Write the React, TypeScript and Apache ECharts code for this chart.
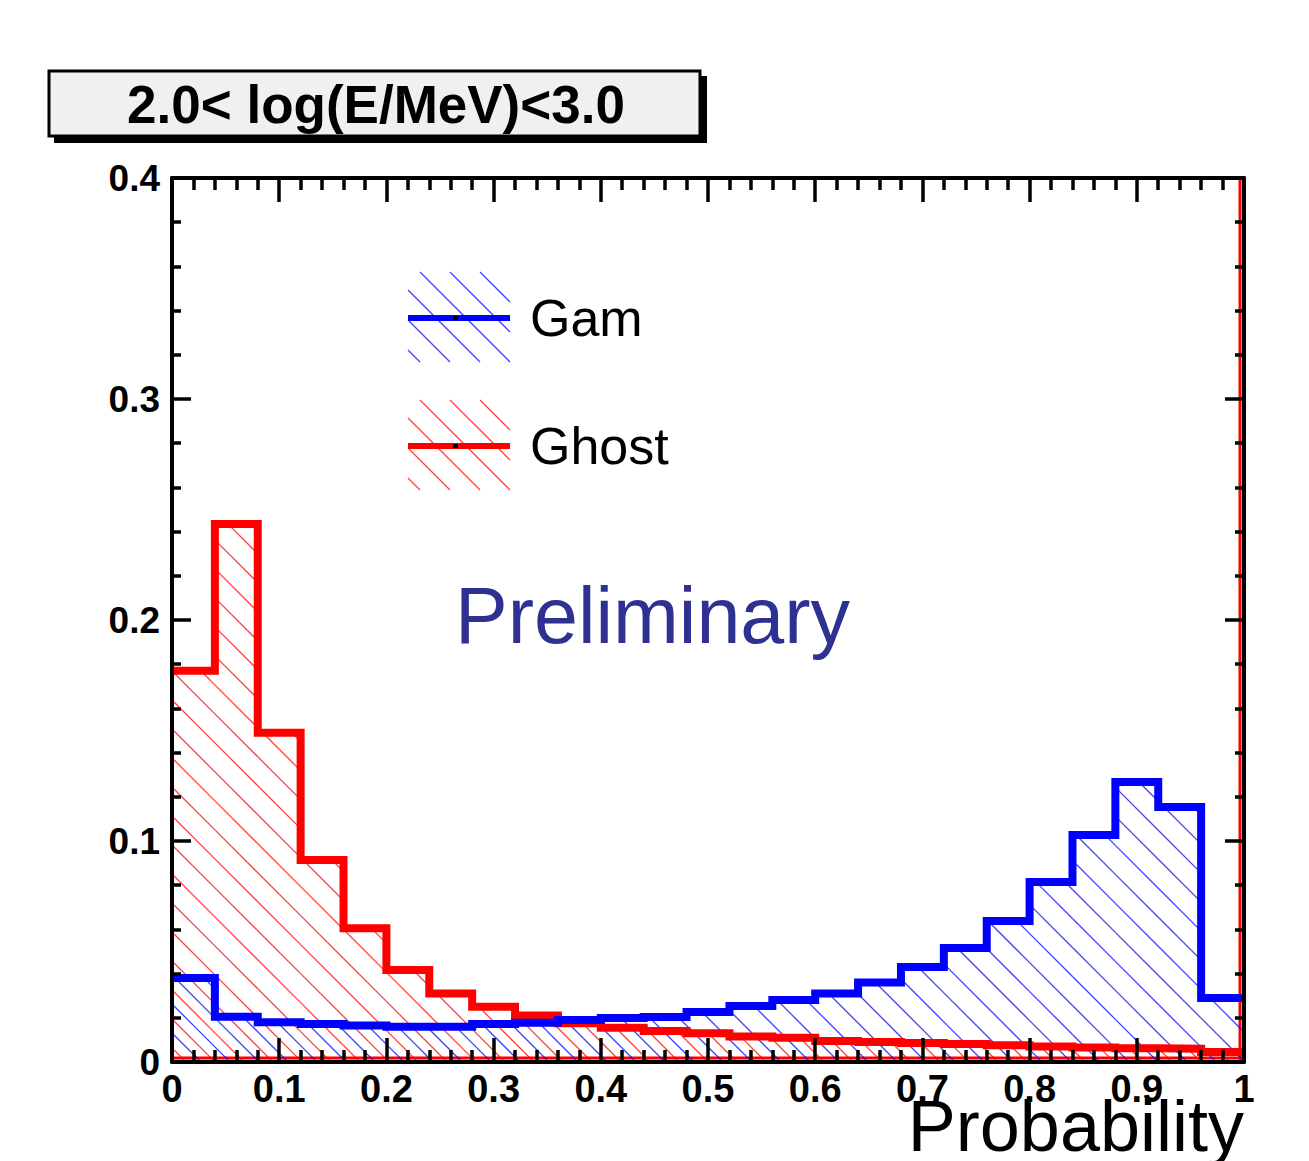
import React, { useEffect, useRef } from "react";
import * as echarts from "echarts";

// ---- data ----
const binLow = [0, 0.04, 0.08, 0.12, 0.16, 0.2, 0.24, 0.28, 0.32, 0.36, 0.4, 0.44, 0.48, 0.52, 0.56, 0.6, 0.64, 0.68, 0.72, 0.76, 0.8, 0.84, 0.88, 0.92, 0.96];
const binHigh = [0.04, 0.08, 0.12, 0.16, 0.2, 0.24, 0.28, 0.32, 0.36, 0.4, 0.44, 0.48, 0.52, 0.56, 0.6, 0.64, 0.68, 0.72, 0.76, 0.8, 0.84, 0.88, 0.92, 0.96, 1];
const gamValues = [0.038, 0.0205, 0.018, 0.0172, 0.0165, 0.016, 0.016, 0.0172, 0.0178, 0.019, 0.0199, 0.0204, 0.0226, 0.0253, 0.028, 0.031, 0.036, 0.043, 0.0516, 0.0638, 0.0815, 0.1027, 0.1267, 0.1154, 0.029];
const ghostValues = [0.177, 0.2434, 0.149, 0.0914, 0.0605, 0.0416, 0.031, 0.025, 0.021, 0.0175, 0.0155, 0.014, 0.013, 0.0115, 0.011, 0.0095, 0.009, 0.0086, 0.0082, 0.0076, 0.007, 0.0066, 0.0062, 0.006, 0.0045];
const xTickLabels = ["0", "0.1", "0.2", "0.3", "0.4", "0.5", "0.6", "0.7", "0.8", "0.9", "1"];
const yTickLabels = ["0", "0.1", "0.2", "0.3", "0.4"];
const titleText = "2.0< log(E/MeV)<3.0";
const xTitle = "Probability";
const legendNames = ["Gam", "Ghost"];
const watermark = "Preliminary";

const BLUE = "#0000ff";
const RED = "#ff0000";
const FONT = "'Liberation Sans', Arial, Helvetica, sans-serif";

function hatchRenderer(color: string, spacing: number, offset: number, extraGhost: boolean) {
  return (params: any, api: any) => {
    const x0 = api.value(0);
    const x1 = api.value(1);
    const v = api.value(2);
    const p0 = api.coord([x0, v]);
    const p1 = api.coord([x1, 0]);
    const left = p0[0], top = p0[1], right = p1[0], bottom = p1[1];
    const children: any[] = [];
    const cMin = top - right;
    const cMax = bottom - left;
    const kStart = Math.ceil((cMin - offset) / spacing);
    const kEnd = Math.floor((cMax - offset) / spacing);
    for (let k = kStart; k <= kEnd; k++) {
      const c = k * spacing + offset;
      const xa = Math.max(left, top - c);
      const xb = Math.min(right, bottom - c);
      if (xb > xa) {
        children.push({
          type: "line",
          shape: { x1: xa, y1: xa + c, x2: xb, y2: xb + c },
          style: { stroke: color, lineWidth: 1.3, opacity: 0.75 },
          silent: true,
        });
      }
    }
    if (extraGhost) {
      children.push({
        type: "line",
        shape: { x1: left, y1: bottom - 4, x2: right, y2: bottom - 4 },
        style: { stroke: color, lineWidth: 3 },
      });
      if (x1 >= 1) {
        const cs = params.coordSys;
        children.push({
          type: "line",
          shape: { x1: right - 4, y1: cs.y + 2, x2: right - 4, y2: bottom },
          style: { stroke: color, lineWidth: 3 },
        });
      }
    }
    return { type: "group", children };
  };
}

function stepData(vals: number[]) {
  const pts: number[][] = binLow.map((x, i) => [x, vals[i]]);
  pts.push([binHigh[binHigh.length - 1], vals[vals.length - 1]]);
  return pts;
}

function legendHatch(x: number, y: number, w: number, h: number, color: string, spacing: number, offset: number) {
  const out: any[] = [];
  const cMin = y - (x + w);
  const cMax = y + h - x;
  for (let k = Math.ceil((cMin - offset) / spacing); k <= Math.floor((cMax - offset) / spacing); k++) {
    const c = k * spacing + offset;
    const xa = Math.max(x, y - c);
    const xb = Math.min(x + w, y + h - c);
    if (xb > xa) {
      out.push({
        type: "line",
        shape: { x1: xa, y1: xa + c, x2: xb, y2: xb + c },
        style: { stroke: color, lineWidth: 1.3, opacity: 0.75 },
      });
    }
  }
  return out;
}

export default function App() {
  const ref = useRef<HTMLDivElement>(null);
  useEffect(() => {
    if (!ref.current) return;
    const chart = echarts.init(ref.current, undefined, { renderer: "svg" });
    const axisLineStyle = { color: "#000", width: 4 };
    const tickStyle = { color: "#000", width: 3.5 };
    const labelFont = { fontFamily: FONT, fontWeight: "bold" as const, fontSize: 38, color: "#000" };

    const legendItems: any[] = [];
    const legendColors = [BLUE, RED];
    const legendTops = [272, 400];
    legendNames.forEach((name, i) => {
      const top = legendTops[i];
      legendItems.push(...legendHatch(408, top, 102, 90, legendColors[i], 30, i === 0 ? 2 : 10));
      legendItems.push({ type: "rect", shape: { x: 408, y: top + 43, width: 102, height: 6 }, style: { fill: legendColors[i] } });
      legendItems.push({ type: "rect", shape: { x: 453, y: top + 44, width: 5, height: 4 }, style: { fill: "#000" } });
      legendItems.push({
        type: "text",
        style: { text: name, x: 530, y: top + 46, fontFamily: FONT, fontSize: 52, fill: "#000", verticalAlign: "middle", align: "left" },
      });
    });

    chart.setOption({
      animation: false,
      backgroundColor: "#fff",
      grid: { left: 172, right: 65, top: 178, bottom: 99, containLabel: false },
      xAxis: [
        {
          type: "value",
          min: 0,
          max: 1,
          interval: 0.1,
          position: "bottom",
          z: 5,
          axisLine: { show: true, onZero: false, lineStyle: axisLineStyle },
          axisTick: { show: true, inside: true, length: 24, lineStyle: tickStyle },
          minorTick: { show: true, splitNumber: 5, length: 12, lineStyle: tickStyle },
          splitLine: { show: false },
          axisLabel: { ...labelFont, margin: 8, formatter: (v: number) => xTickLabels[Math.round(v * 10)] ?? "" },
        },
        {
          type: "value",
          min: 0,
          max: 1,
          interval: 0.1,
          position: "top",
          z: 5,
          axisLine: { show: true, onZero: false, lineStyle: axisLineStyle },
          axisTick: { show: true, inside: true, length: 24, lineStyle: tickStyle },
          minorTick: { show: true, splitNumber: 5, length: 12, lineStyle: tickStyle },
          splitLine: { show: false },
          axisLabel: { show: false },
        },
      ],
      yAxis: [
        {
          type: "value",
          min: 0,
          max: 0.4,
          interval: 0.1,
          position: "left",
          z: 5,
          axisLine: { show: true, onZero: false, lineStyle: axisLineStyle },
          axisTick: { show: true, inside: true, length: 19, lineStyle: tickStyle },
          minorTick: { show: true, splitNumber: 5, length: 9, lineStyle: tickStyle },
          splitLine: { show: false },
          axisLabel: { ...labelFont, fontSize: 37, margin: 12, formatter: (v: number) => yTickLabels[Math.round(v * 10)] ?? "" },
        },
        {
          type: "value",
          min: 0,
          max: 0.4,
          interval: 0.1,
          position: "right",
          z: 5,
          axisLine: { show: true, onZero: false, lineStyle: axisLineStyle },
          axisTick: { show: true, inside: true, length: 19, lineStyle: tickStyle },
          minorTick: { show: true, splitNumber: 5, length: 9, lineStyle: tickStyle },
          splitLine: { show: false },
          axisLabel: { show: false },
        },
      ],
      series: [
        {
          name: "Ghost hatch",
          type: "custom",
          xAxisIndex: 0,
          yAxisIndex: 0,
          z: 1,
          clip: false,
          renderItem: hatchRenderer(RED, 29, 6, true),
          encode: { x: [0, 1], y: 2 },
          data: ghostValues.map((v, i) => [binLow[i], binHigh[i], v]),
        },
        {
          name: "Gam hatch",
          type: "custom",
          xAxisIndex: 0,
          yAxisIndex: 0,
          z: 2,
          clip: true,
          renderItem: hatchRenderer(BLUE, 29, 20, false),
          encode: { x: [0, 1], y: 2 },
          data: gamValues.map((v, i) => [binLow[i], binHigh[i], v]),
        },
        {
          name: legendNames[1],
          type: "line",
          step: "end",
          z: 3,
          symbol: "none",
          data: stepData(ghostValues),
          lineStyle: { color: RED, width: 8, join: "miter", cap: "butt" },
        },
        {
          name: legendNames[0],
          type: "line",
          step: "end",
          z: 4,
          symbol: "none",
          data: stepData(gamValues),
          lineStyle: { color: BLUE, width: 8, join: "miter", cap: "butt" },
        },
      ],
      graphic: [
        { type: "rect", shape: { x: 54, y: 76, width: 653, height: 67 }, style: { fill: "#000" }, z: 10 },
        { type: "rect", shape: { x: 49, y: 71, width: 651, height: 65 }, style: { fill: "#f0f0f0", stroke: "#000", lineWidth: 3 }, z: 11 },
        {
          type: "text",
          z: 12,
          style: { text: titleText, x: 376, y: 104, align: "center", verticalAlign: "middle", fontFamily: FONT, fontWeight: "bold", fontSize: 53, fill: "#000" },
        },
        {
          type: "text",
          z: 12,
          style: { text: xTitle, x: 1244, y: 1126, align: "right", verticalAlign: "middle", fontFamily: FONT, fontSize: 72, fill: "#000" },
        },
        {
          type: "text",
          z: 12,
          style: { text: watermark, x: 455, y: 615, align: "left", verticalAlign: "middle", fontFamily: FONT, fontSize: 79, fill: "#2e3192" },
        },
        { type: "group", z: 12, children: legendItems },
      ],
    });
    return () => chart.dispose();
  }, []);
  return <div ref={ref} style={{ position: "fixed", left: 0, top: 0, width: 1309, height: 1161, background: "#fff" }} />;
}
